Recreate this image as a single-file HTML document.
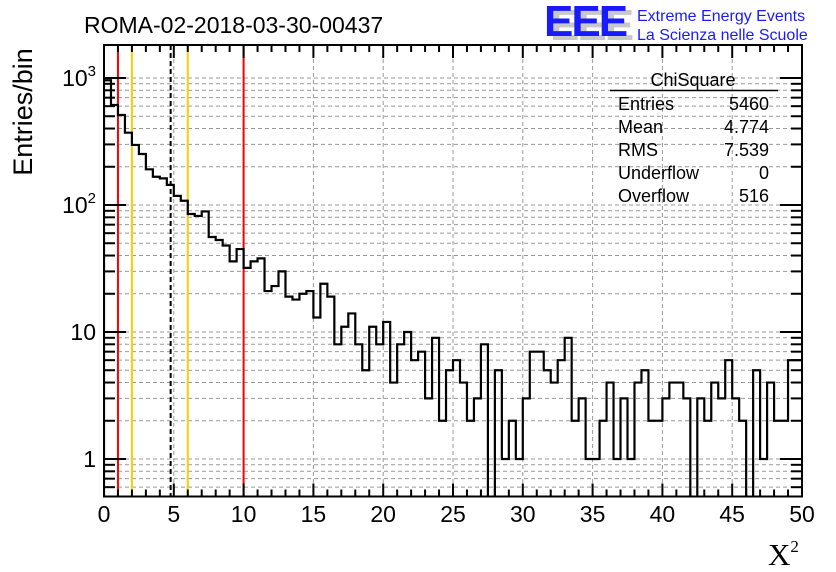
<!DOCTYPE html>
<html><head><meta charset="utf-8"><style>
html,body{margin:0;padding:0;background:#fff;}
svg{display:block;font-family:"Liberation Sans",sans-serif;}
</style></head><body>
<svg id="chart" width="836" height="572" viewBox="0 0 836 572" xmlns="http://www.w3.org/2000/svg">
<rect width="836" height="572" fill="#fff"/>
<g id="grid"></g>
<g id="vlines"></g>
<g id="hist"></g>
<g id="axes"></g>
<text x="84" y="33" font-size="23">ROMA-02-2018-03-30-00437</text>
<g>
<text x="550" y="40" font-size="44" font-weight="bold" fill="#c8c8c8" letter-spacing="-2">EEE</text>
<text x="544" y="36" font-size="44" font-weight="bold" fill="#1a1aff" letter-spacing="-2">EEE</text>
<text x="637" y="21" font-size="16" fill="#1a1aff">Extreme Energy Events</text>
<text x="637" y="40" font-size="16" fill="#1a1aff">La Scienza nelle Scuole</text>
</g>
<g font-size="18">
<text x="693" y="86" text-anchor="middle">ChiSquare</text>
<line x1="610" y1="90.5" x2="778" y2="90.5" stroke="#000" stroke-width="1.5"/>
<text x="618" y="110">Entries</text><text x="769" y="110" text-anchor="end">5460</text>
<text x="618" y="133">Mean</text><text x="769" y="133" text-anchor="end">4.774</text>
<text x="618" y="156">RMS</text><text x="769" y="156" text-anchor="end">7.539</text>
<text x="618" y="179">Underflow</text><text x="769" y="179" text-anchor="end">0</text>
<text x="618" y="202">Overflow</text><text x="769" y="202" text-anchor="end">516</text>
</g>
<text transform="translate(32,112) rotate(-90)" text-anchor="middle" font-size="27">Entries/bin</text>
<text x="768" y="565" font-family="'Liberation Serif',serif" font-size="31">X<tspan font-size="17" dy="-13">2</tspan></text>
</svg>
<script>
const binEdges = [0, 50];
const counts = [960,613,511,371,297,252,191,167,162,144,118,108,85,82,89,56,53,48,36,45,32,36,38,21,23,30,19,18,20,21,13,24,19,8,11,14,8,5,11,8,12,4,8,10,6,7,3,9,2,5,6,4,2,3,8,0,5,1,2,1,3,7,7,5,4,6,9,2,3,1,1,2,4,1,3,1,4,5,2,2,3,4,4,3,0,3,2,4,3,6,3,2,0,5,1,4,2,2,6,6];
const xTicks = [0,5,10,15,20,25,30,35,40,45,50];
const yTickVals = [1,10,100,1000];
const yTickLabels = ["1","10","10²","10³"];
const markers = [{v:1,c:"#ff0000",d:""},{v:2,c:"#ffcc00",d:""},{v:6,c:"#ffcc00",d:""},{v:10,c:"#ff0000",d:""},{v:4.774,c:"#000",d:"5,3"}];

const X0=104,X1=802,Y0=45,Y1=496.5;
const dec=127;
function xs(v){return X0+(v-binEdges[0])/(binEdges[1]-binEdges[0])*(X1-X0);}
function ys(v){ if(v<=0) return Y1+5; const y=459-dec*Math.log10(v); return Math.min(y,Y1+5);}
const NS="http://www.w3.org/2000/svg";
function mk(tag,attrs,parent){const e=document.createElementNS(NS,tag);for(const k in attrs)e.setAttribute(k,attrs[k]);parent.appendChild(e);return e;}
const grid=document.getElementById('grid'),vl=document.getElementById('vlines'),hist=document.getElementById('hist'),axes=document.getElementById('axes');
for(const t of xTicks){ if(t===0||t===50)continue;
  const l=mk('line',{x1:xs(t),x2:xs(t),y1:Y0,y2:Y1,stroke:'#999','stroke-dasharray':'4,3','stroke-width':1},grid);
  
  
}
for(let d=0;d<=3;d++){for(let m=1;m<=9;m++){const v=m*Math.pow(10,d);const y=ys(v);if(y<Y0||y>Y1)continue;
  const l=mk('line',{x1:X0,x2:X1,y1:y,y2:y,stroke:'#999','stroke-dasharray':'4,3','stroke-width':1},grid);
  
  
}}
for(const v of [0.6,0.7,0.8,0.9]){const y=ys(v);
  const l=mk('line',{x1:X0,x2:X1,y1:y,y2:y,stroke:'#999','stroke-dasharray':'4,3','stroke-width':1},grid);
  
  
}
for(const m of markers){
  const l=mk('line',{x1:xs(m.v),x2:xs(m.v),y1:Y0,y2:Y1,stroke:m.c,'stroke-width':2},vl);
  if(m.d)l.setAttribute('stroke-dasharray',m.d);
  
  
}
const bw=(binEdges[1]-binEdges[0])/counts.length;
let d="M"+xs(0)+","+Y1;
for(let i=0;i<counts.length;i++){const y=ys(counts[i]);d+=" L"+xs(i*bw)+","+y+" L"+xs((i+1)*bw)+","+y;}
const cp=mk('clipPath',{id:'fc'},hist);mk('rect',{x:X0,y:Y0,width:X1-X0,height:Y1-Y0},cp);
const p=mk('path',{d:d,fill:'none',stroke:'#000','stroke-width':2.2,'clip-path':'url(#fc)'},hist);


const fr=mk('rect',{x:X0,y:Y0,width:X1-X0,height:Y1-Y0,fill:'none',stroke:'#000','stroke-width':2},axes);


for(let v=0;v<=50;v++){const big=v%5===0;const L=big?13:7;const x=xs(v);
  mk('line',{x1:x,x2:x,y1:Y1,y2:Y1-L,stroke:'#000','stroke-width':2},axes);
  mk('line',{x1:x,x2:x,y1:Y0,y2:Y0+L,stroke:'#000','stroke-width':2},axes);
}
for(const t of xTicks){const tx=mk('text',{x:xs(t),y:522,'text-anchor':'middle','font-size':23},axes);tx.textContent=t;
  
  
}
for(let d2=-1;d2<=3;d2++){for(let m=1;m<=9;m++){const v=m*Math.pow(10,d2);const y=ys(v);if(y<Y0||y>Y1)continue;const L=m===1?22:11;
  mk('line',{x1:X0,x2:X0+L,y1:y,y2:y,stroke:'#000','stroke-width':2},axes);
  mk('line',{x1:X1,x2:X1-L,y1:y,y2:y,stroke:'#000','stroke-width':2},axes);
}}
yTickVals.forEach((v,i)=>{const y=ys(v);const t=mk('text',{x:96,y:y+8,'text-anchor':'end','font-size':23},axes);
  const lab=yTickLabels[i];
  if(lab.length>2&&lab.startsWith("10")){t.textContent="10";const s=mk('tspan',{'font-size':15,dy:-10},t);s.textContent=lab.slice(2)==="²"?"2":"3";}
  else t.textContent=lab;
  
  
});
</script>
</body></html>
